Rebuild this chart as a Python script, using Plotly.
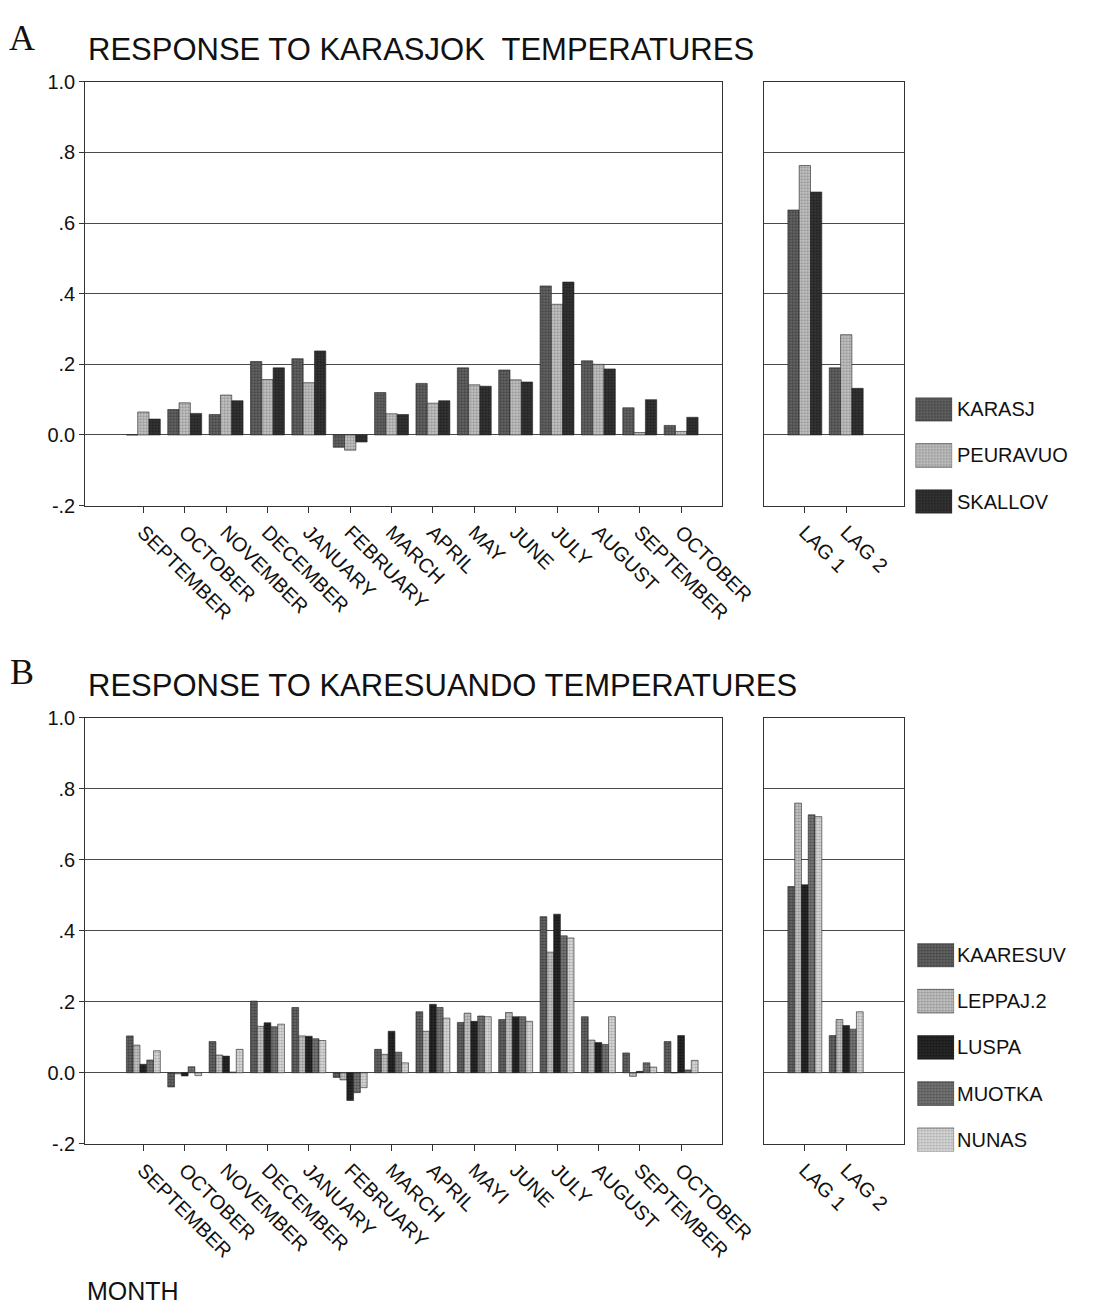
import plotly.graph_objects as go

# ---- data -------------------------------------------------------------
months_a = ["SEPTEMBER", "OCTOBER", "NOVEMBER", "DECEMBER", "JANUARY", "FEBRUARY",
            "MARCH", "APRIL", "MAY", "JUNE", "JULY", "AUGUST", "SEPTEMBER", "OCTOBER"]
months_b = ["SEPTEMBER", "OCTOBER", "NOVEMBER", "DECEMBER", "JANUARY", "FEBRUARY",
            "MARCH", "APRIL", "MAYI", "JUNE", "JULY", "AUGUST", "SEPTEMBER", "OCTOBER"]
lags = ["LAG 1", "LAG 2"]

# Panel A: Karasjok temperatures
series_a = ["KARASJ", "PEURAVUO", "SKALLOV"]
karasj = [0.0, 0.072, 0.058, 0.208, 0.216, -0.035, 0.12, 0.146, 0.19, 0.184, 0.422, 0.21, 0.077, 0.027]
peuravuo = [0.065, 0.091, 0.113, 0.157, 0.148, -0.043, 0.06, 0.09, 0.142, 0.156, 0.37, 0.2, 0.007, 0.01]
skallov = [0.045, 0.061, 0.097, 0.19, 0.238, -0.02, 0.058, 0.097, 0.138, 0.15, 0.433, 0.187, 0.1, 0.05]
karasj_lag = [0.637, 0.19]
peuravuo_lag = [0.763, 0.284]
skallov_lag = [0.688, 0.132]

# Panel B: Karesuando temperatures
series_b = ["KAARESUV", "LEPPAJ.2", "LUSPA", "MUOTKA", "NUNAS"]
kaaresuv = [0.104, -0.04, 0.088, 0.202, 0.184, -0.013, 0.066, 0.172, 0.142, 0.15, 0.44, 0.158, 0.056, 0.088]
leppaj = [0.078, -0.003, 0.05, 0.131, 0.104, -0.02, 0.052, 0.117, 0.168, 0.17, 0.34, 0.092, -0.01, 0.0]
luspa = [0.024, -0.009, 0.047, 0.141, 0.103, -0.078, 0.117, 0.193, 0.145, 0.158, 0.447, 0.085, 0.004, 0.105]
muotka = [0.036, 0.017, 0.002, 0.13, 0.096, -0.056, 0.058, 0.184, 0.16, 0.158, 0.386, 0.08, 0.028, 0.008]
nunas = [0.062, -0.008, 0.066, 0.137, 0.091, -0.042, 0.028, 0.154, 0.158, 0.145, 0.38, 0.158, 0.016, 0.035]
kaaresuv_lag = [0.525, 0.105]
leppaj_lag = [0.76, 0.15]
luspa_lag = [0.53, 0.133]
muotka_lag = [0.727, 0.123]
nunas_lag = [0.722, 0.172]

y_ticks = [-0.2, 0.0, 0.2, 0.4, 0.6, 0.8, 1.0]
y_tick_text = ["-.2", "0.0", ".2", ".4", ".6", ".8", "1.0"]

# ---- styling ----------------------------------------------------------
W, H = 1117, 1316
FONT = "Liberation Sans, Arial, sans-serif"
GRID = "#4a4a4a"

# halftone fills (background, dot colour)
fills_a = [("#6e6e6e", "#151515"), ("#cfcfcf", "#5a5a5a"), ("#3a3a3a", "#050505")]
fills_b = [("#6e6e6e", "#151515"), ("#cfcfcf", "#5a5a5a"), ("#2e2e2e", "#000000"),
           ("#7f7f7f", "#262626"), ("#e2e2e2", "#7a7a7a")]


def marker(fill):
    bg, fg = fill
    return dict(color=bg,
                pattern=dict(shape=".", fgcolor=fg, bgcolor=bg, size=3, solidity=0.5),
                line=dict(color="#222222", width=0.6))


def px_x(p):
    return p / W


def px_y(p):
    return 1 - p / H


fig = go.Figure()

month_pos = list(range(len(months_a)))
lag_pos = list(range(len(lags)))

vals_a = [karasj, peuravuo, skallov]
lag_a = [karasj_lag, peuravuo_lag, skallov_lag]
vals_b = [kaaresuv, leppaj, luspa, muotka, nunas]
lag_b = [kaaresuv_lag, leppaj_lag, luspa_lag, muotka_lag, nunas_lag]

for name, v, lv, f in zip(series_a, vals_a, lag_a, fills_a):
    fig.add_trace(go.Bar(x=month_pos, y=v, name=name, marker=marker(f), xaxis="x", yaxis="y"))
    fig.add_trace(go.Bar(x=lag_pos, y=lv, name=name, marker=marker(f), xaxis="x2", yaxis="y2"))

for name, v, lv, f in zip(series_b, vals_b, lag_b, fills_b):
    fig.add_trace(go.Bar(x=month_pos, y=v, name=name, marker=marker(f), xaxis="x3", yaxis="y3"))
    fig.add_trace(go.Bar(x=lag_pos, y=lv, name=name, marker=marker(f), xaxis="x4", yaxis="y4"))

# legend keys drawn as patterned swatches
ROW, SW = 47, 24
annotations = []
for names, fills, xa, ya in [(series_a, fills_a, "x5", "y5"), (series_b, fills_b, "x6", "y6")]:
    for i, (name, f) in enumerate(zip(names, fills)):
        fig.add_trace(go.Bar(x=[0], y=[SW], base=[i * ROW], width=[1], offset=-0.5,
                             offsetgroup="key", marker=marker(f), xaxis=xa, yaxis=ya,
                             hoverinfo="skip"))
        annotations.append(dict(text=name, xref="paper", yref=ya, x=px_x(986), y=i * ROW + SW / 2,
                                xanchor="left", yanchor="middle", showarrow=False,
                                font=dict(family=FONT, size=20, color="#111")))

# axes
main_x = dict(range=[-1.405, 13.98], tickmode="array", tickvals=month_pos,
              tickangle=45, ticks="outside", ticklen=6, tickcolor="#333",
              showline=True, linecolor="#333", linewidth=1, mirror=True,
              showgrid=False, zeroline=False,
              tickfont=dict(family=FONT, size=20, color="#111"))
main_y = dict(range=[-0.2, 1.0], tickmode="array", tickvals=y_ticks, ticktext=y_tick_text,
              ticks="outside", ticklen=5, tickcolor="#333",
              showline=True, linecolor="#333", linewidth=1, mirror=True,
              showgrid=True, gridcolor=GRID, gridwidth=1, zeroline=False,
              tickfont=dict(family=FONT, size=20, color="#111"))
lag_x = dict(main_x, range=[-0.98, 2.39], tickvals=lag_pos, ticktext=lags)
lag_y = dict(main_y, showticklabels=False, ticks="")

dom_main_x = [px_x(88), px_x(745)]
dom_lag_x = [px_x(789), px_x(933)]
dom_a_y = [px_y(503), px_y(72)]
dom_b_y = [px_y(1152), px_y(719)]

hidden = dict(visible=False, showgrid=False, zeroline=False, fixedrange=True)

fig.update_layout(
    width=W, height=H,
    margin=dict(l=0, r=0, t=0, b=0),
    paper_bgcolor="white", plot_bgcolor="white",
    showlegend=False,
    barmode="group", bargap=0.18, bargroupgap=0,
    font=dict(family=FONT, color="#111"),
    xaxis=dict(main_x, domain=dom_main_x, anchor="y", ticktext=months_a),
    yaxis=dict(main_y, domain=dom_a_y, anchor="x"),
    xaxis2=dict(lag_x, domain=dom_lag_x, anchor="y2"),
    yaxis2=dict(lag_y, domain=dom_a_y, anchor="x2"),
    xaxis3=dict(main_x, domain=dom_main_x, anchor="y3", ticktext=months_b),
    yaxis3=dict(main_y, domain=dom_b_y, anchor="x3"),
    xaxis4=dict(lag_x, domain=dom_lag_x, anchor="y4"),
    yaxis4=dict(lag_y, domain=dom_b_y, anchor="x4"),
    xaxis5=dict(hidden, domain=[px_x(945), px_x(983)], range=[-0.5, 0.5], anchor="y5"),
    yaxis5=dict(hidden, domain=[px_y(393 + 2 * ROW + SW), px_y(393)],
                range=[2 * ROW + SW, 0], anchor="x5"),
    xaxis6=dict(hidden, domain=[px_x(947), px_x(985)], range=[-0.5, 0.5], anchor="y6"),
    yaxis6=dict(hidden, domain=[px_y(948 + 4 * ROW + SW), px_y(948)],
                range=[4 * ROW + SW, 0], anchor="x6"),
)

annotations += [
    dict(text="A", x=px_x(7), y=px_y(5), xanchor="left", yanchor="top",
         font=dict(family="Liberation Serif, Times New Roman, serif", size=36, color="#111")),
    dict(text="RESPONSE TO KARASJOK\u00a0 TEMPERATURES", x=px_x(89), y=px_y(39),
         xanchor="left", yanchor="middle", font=dict(family=FONT, size=31, color="#111")),
    dict(text="B", x=px_x(8), y=px_y(650), xanchor="left", yanchor="top",
         font=dict(family="Liberation Serif, Times New Roman, serif", size=36, color="#111")),
    dict(text="RESPONSE TO KARESUANDO TEMPERATURES", x=px_x(89), y=px_y(686),
         xanchor="left", yanchor="middle", font=dict(family=FONT, size=31, color="#111")),
    dict(text="MONTH", x=px_x(88), y=px_y(1302), xanchor="left", yanchor="middle",
         font=dict(family=FONT, size=25, color="#111")),
]
for a in annotations:
    a.setdefault("xref", "paper")
    a.setdefault("yref", "paper")
    a.setdefault("showarrow", False)
fig.update_layout(annotations=annotations)

# page body without default margin so the figure fills the window exactly
fig.write_html("out.html",
               post_script="document.body.style.margin='0';document.body.style.overflow='hidden';")
